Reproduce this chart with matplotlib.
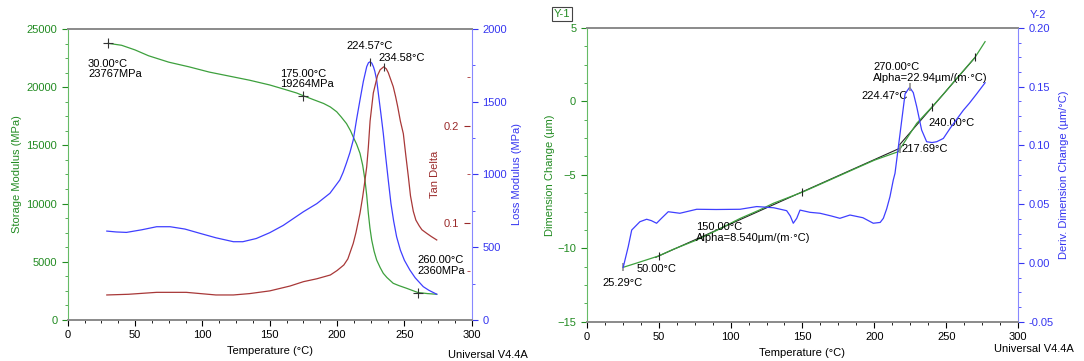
import numpy as np
import matplotlib.pyplot as plt
from matplotlib.ticker import AutoMinorLocator, FixedLocator

plt.rcParams['font.family'] = ['Liberation Sans', 'DejaVu Sans']
plt.rcParams['font.size'] = 8

# ---- left panel: DMA ----
storage_T = [30, 40, 50, 60, 75, 90, 105, 120, 135, 150, 160, 170, 175, 182, 190, 195,
             199.7, 203, 207, 210, 212, 214.5, 217, 219, 220.7, 222, 223.2, 224.4, 225.7,
             227.5, 229.4, 232, 234.3, 237, 241.7, 246, 251.7, 260, 267, 274]
storage = [23767, 23600, 23200, 22700, 22150, 21750, 21300, 20950, 20600, 20190, 19850,
           19500, 19264, 18950, 18600, 18300, 17890, 17450, 16870, 16250, 15720, 15100,
           14320, 13300, 12030, 10700, 9170, 7900, 6870, 5900, 5150, 4500, 4010, 3650,
           3150, 2950, 2720, 2360, 2270, 2210]

tan_T = [29, 45, 66, 88, 110, 123, 135, 150, 165, 175, 185, 195, 200, 205, 208, 212, 214,
         217, 219, 220.7, 222, 223.2, 224.5, 226.9, 230, 232, 234.58, 236.5, 238, 241.7,
         243.5, 245, 247, 249.2, 251, 252.9, 254.5, 256.6, 258.5, 261, 263, 266.5, 270, 274]
tan_delta = [0.0258, 0.0265, 0.0285, 0.0285, 0.0258, 0.0258, 0.0272, 0.030, 0.035, 0.0395,
             0.0425, 0.0464, 0.051, 0.0567, 0.063, 0.079, 0.090, 0.11, 0.127, 0.144, 0.158,
             0.178, 0.205, 0.234, 0.252, 0.258, 0.261, 0.259, 0.255, 0.2405, 0.230, 0.220,
             0.205, 0.192, 0.170, 0.148, 0.128, 0.112, 0.103, 0.097, 0.093, 0.0894, 0.086,
             0.0825]

loss_T = [29, 36, 43.6, 55, 66, 76, 87, 98, 110, 123, 130, 140, 150, 160, 175, 185, 194.7,
          202, 204.5, 207, 209.5, 212, 214.5, 217, 219.5, 222, 223.3, 224.57, 225.8, 227,
          228, 229.4, 231, 232.5, 234.3, 236, 238, 240, 242, 244.2, 247, 250, 254, 258, 264,
          268, 274]
loss = [611, 605, 602, 620, 641, 641, 625, 596, 565, 538, 538, 560, 600, 650, 744, 800, 871,
        962, 1015, 1080, 1150, 1237, 1380, 1512, 1640, 1741, 1768, 1775, 1765, 1740, 1710,
        1649, 1530, 1420, 1283, 1130, 962, 800, 680, 572, 480, 410, 344, 290, 229, 205, 177]

# ---- right panel: TMA ----
dim_T = [25.29, 35, 49.8, 60, 76.4, 90, 106.6, 120, 129.7, 150.6, 169, 185, 200, 210,
         216.6, 222, 229.4, 239.8, 248, 257.2, 269.9, 276.9]
dim = [-11.3, -11.0, -10.53, -10.08, -9.44, -8.80, -7.97, -7.40, -6.94, -6.15, -5.35,
       -4.65, -4.00, -3.65, -3.42, -2.60, -1.49, -0.40, 0.50, 1.57, 3.0, 4.07]

deriv_T = [25.4, 28.9, 31.3, 37, 41.7, 45, 48.6, 52, 56.7, 64.8, 76.5, 90, 106.6, 118.2,
           130, 139, 141.5, 143.6, 146, 148.3, 155.2, 162.2, 170, 176, 183, 192, 199.2, 204,
           206.2, 208.5, 210.8, 213.1, 214.3, 217.8, 221.3, 224.47, 227, 229.4, 232.8, 236.3,
           240, 243.3, 247.9, 252.6, 257, 261.8, 266, 271.1, 276.9]
deriv = [-0.0037, 0.0139, 0.028, 0.0351, 0.0372, 0.036, 0.0338, 0.038, 0.0436, 0.0423,
         0.0457, 0.0455, 0.0457, 0.048, 0.047, 0.0445, 0.040, 0.0338, 0.038, 0.045, 0.0431,
         0.0423, 0.040, 0.038, 0.0408, 0.0385, 0.0338, 0.0345, 0.038, 0.046, 0.0564, 0.0706,
         0.0763, 0.110, 0.144, 0.1495, 0.145, 0.133, 0.1132, 0.1032, 0.1025, 0.1032, 0.106,
         0.1146, 0.122, 0.130, 0.136, 0.144, 0.1534]

green = '#3da03d'
green_txt = '#228b22'
blue = '#3f3fff'
blue_txt = '#3535f0'
red = '#a83838'
red_txt = '#9a2a2a'
gray = '#8c8c8c'
fs = 8

fig = plt.figure(figsize=(10.84, 3.61), dpi=100)

# ================= left panel =================
ax = fig.add_axes([0.0625, 0.1136, 0.3727, 0.8061])
ax_loss = ax.twinx()
ax_tan = ax.twinx()

ax.plot(storage_T, storage, color=green, lw=0.9)
ax_loss.plot(loss_T, loss, color=blue, lw=0.9)
ax_tan.plot(tan_T, tan_delta, color=red, lw=0.9)

ax.set_xlim(0, 300)
ax.set_ylim(0, 25000)
ax_loss.set_ylim(0, 2000)
ax_tan.set_ylim(0, 0.3)

ax.set_xticks([0, 50, 100, 150, 200, 250, 300])
ax.xaxis.set_minor_locator(AutoMinorLocator(4))
ax.set_yticks([0, 5000, 10000, 15000, 20000, 25000])
ax.yaxis.set_minor_locator(AutoMinorLocator(4))
ax_loss.set_yticks([0, 500, 1000, 1500, 2000])
ax_loss.yaxis.set_minor_locator(AutoMinorLocator(2))
ax_tan.yaxis.set_major_locator(FixedLocator([0.1, 0.2]))
ax_tan.yaxis.set_minor_locator(FixedLocator([0.05, 0.15, 0.25]))

ax.tick_params(axis='x', colors='black', labelsize=fs, length=4)
ax.tick_params(axis='x', which='minor', length=2)
ax.tick_params(axis='y', colors=green_txt, labelsize=fs, length=4)
ax.tick_params(axis='y', which='minor', colors=green, length=2)
ax_loss.tick_params(axis='y', colors=blue_txt, labelsize=fs, length=4)
ax_loss.tick_params(axis='y', which='minor', colors=blue, length=2)

# tan delta axis sits on the right edge with labels inside the plot
ax_tan.spines['left'].set_position(('axes', 0.995))
ax_tan.yaxis.tick_left()
ax_tan.yaxis.set_label_position('left')
for s in ('left', 'right', 'top', 'bottom'):
    ax_tan.spines[s].set_visible(False)
ax_tan.tick_params(axis='y', colors=red_txt, labelsize=fs, length=4)
ax_tan.tick_params(axis='y', which='minor', colors=red, length=2)

for a in (ax, ax_loss):
    a.spines['top'].set_color(gray)
    a.spines['top'].set_linewidth(1.3)
    a.spines['bottom'].set_color(gray)
    a.spines['bottom'].set_linewidth(1.3)
ax.spines['right'].set_visible(False)
ax.spines['left'].set_color('#66bb66')
ax_loss.spines['left'].set_visible(False)
ax_loss.spines['right'].set_color('#8888ff')

ax.set_xlabel('Temperature (°C)', fontsize=fs, labelpad=4)
ax.set_ylabel('Storage Modulus (MPa)', color=green_txt, fontsize=fs, labelpad=3)
ax_loss.set_ylabel('Loss Modulus (MPa)', color=blue_txt, fontsize=fs, labelpad=4)
ax_tan.set_ylabel('Tan Delta', color=red_txt, fontsize=fs, labelpad=3)

# markers and annotations
ax.plot([30, 175, 260], [23767, 19264, 2360], ls='none', marker='+', color='#333333',
        ms=7, mew=0.8)
ax_loss.plot([224.57], [1775], ls='none', marker='|', color='#333333', ms=6, mew=0.8)
ax_tan.plot([234.58], [0.261], ls='none', marker='|', color='#333333', ms=6, mew=0.8)
ax.text(15, 22450, '30.00°C\n23767MPa', fontsize=fs, va='top', linespacing=1.1)
ax.text(158, 21600, '175.00°C\n19264MPa', fontsize=fs, va='top', linespacing=1.1)
ax_loss.text(207, 1915, '224.57°C', fontsize=fs, va='top')
ax_loss.text(231, 1832, '234.58°C', fontsize=fs, va='top')
ax.text(259.5, 5550, '260.00°C\n2360MPa', fontsize=fs, va='top', linespacing=1.1)
ax.text(282, -2600, 'Universal V4.4A', fontsize=fs, va='top')

# ================= right panel =================
bx = fig.add_axes([0.5412, 0.1089, 0.3982, 0.8135])
bx2 = bx.twinx()

# tangent lines for the two expansion regions
t1 = np.array([48, 217.69])
s1 = (-6.15 - -10.53) / (150 - 50)
bx.plot(t1, -10.53 + s1 * (t1 - 50), color='#222222', lw=0.8)
t2 = np.array([217.69, 270])
s2 = (3.0 - -0.40) / (270 - 240)
bx.plot(t2, -0.40 + s2 * (t2 - 240), color='#222222', lw=0.8)

bx.plot(dim_T, dim, color=green, lw=0.9)
bx2.plot(deriv_T, deriv, color=blue, lw=0.9)

bx.plot([50, 150, 240, 270], [-10.53, -6.15, -0.40, 3.0], ls='none', marker='|',
        color='#222222', ms=6, mew=0.8)
bx.plot([25.29, 217.69], [-11.3, -3.25], ls='none', marker='|', color=gray, ms=6, mew=1.2)
bx2.plot([224.47], [0.1495], ls='none', marker='|', color=gray, ms=6, mew=1.2)

bx.set_xlim(0, 300)
bx.set_ylim(-15, 5)
bx2.set_ylim(-0.05, 0.20)
bx.set_xticks([0, 50, 100, 150, 200, 250, 300])
bx.xaxis.set_minor_locator(AutoMinorLocator(4))
bx.set_yticks([-15, -10, -5, 0, 5])
bx.yaxis.set_minor_locator(AutoMinorLocator(4))
bx2.set_yticks([-0.05, 0.0, 0.05, 0.10, 0.15, 0.20])
bx2.set_yticklabels(['-0.05', '0.00', '0.05', '0.10', '0.15', '0.20'])
bx2.yaxis.set_minor_locator(AutoMinorLocator(4))

bx.tick_params(axis='x', colors='black', labelsize=fs, length=4)
bx.tick_params(axis='x', which='minor', length=2)
bx.tick_params(axis='y', colors=green_txt, labelsize=fs, length=4)
bx.tick_params(axis='y', which='minor', colors=green, length=2)
bx2.tick_params(axis='y', colors=blue_txt, labelsize=fs, length=4)
bx2.tick_params(axis='y', which='minor', colors=blue, length=2)

for a in (bx, bx2):
    a.spines['top'].set_color(gray)
    a.spines['top'].set_linewidth(1.3)
    a.spines['bottom'].set_color(gray)
    a.spines['bottom'].set_linewidth(1.3)
bx.spines['right'].set_visible(False)
bx.spines['left'].set_color('#66bb66')
bx2.spines['left'].set_visible(False)
bx2.spines['right'].set_color('#8888ff')

bx.set_xlabel('Temperature (°C)', fontsize=fs, labelpad=4)
bx.set_ylabel('Dimension Change (µm)', color=green_txt, fontsize=fs, labelpad=2)
bx2.set_ylabel('Deriv. Dimension Change (µm/°C)', color=blue_txt, fontsize=fs, labelpad=4)

bx.text(-23, 5.95, 'Y-1', color=green_txt, fontsize=fs, va='center',
        bbox=dict(boxstyle='square,pad=0.15', fc='white', ec='#444444', lw=0.8))
bx2.text(308, 0.2115, 'Y-2', color=blue_txt, fontsize=fs, va='center')

bx.text(199, 2.7, '270.00°C\nAlpha=22.94µm/(m·°C)', fontsize=fs, va='top',
        linespacing=1.1)
bx.text(191, 0.7, '224.47°C', fontsize=fs, va='top')
bx.text(237.5, -1.1, '240.00°C', fontsize=fs, va='top')
bx.text(218.5, -2.9, '217.69°C', fontsize=fs, va='top')
bx.text(76, -8.2, '150.00°C\nAlpha=8.540µm/(m·°C)', fontsize=fs, va='top',
        linespacing=1.1)
bx.text(35, -11.1, '50.00°C', fontsize=fs, va='top')
bx.text(11, -12.0, '25.29°C', fontsize=fs, va='top')
bx.text(283, -16.5, 'Universal V4.4A', fontsize=fs, va='top')

fig.savefig('out.png', dpi=100)
